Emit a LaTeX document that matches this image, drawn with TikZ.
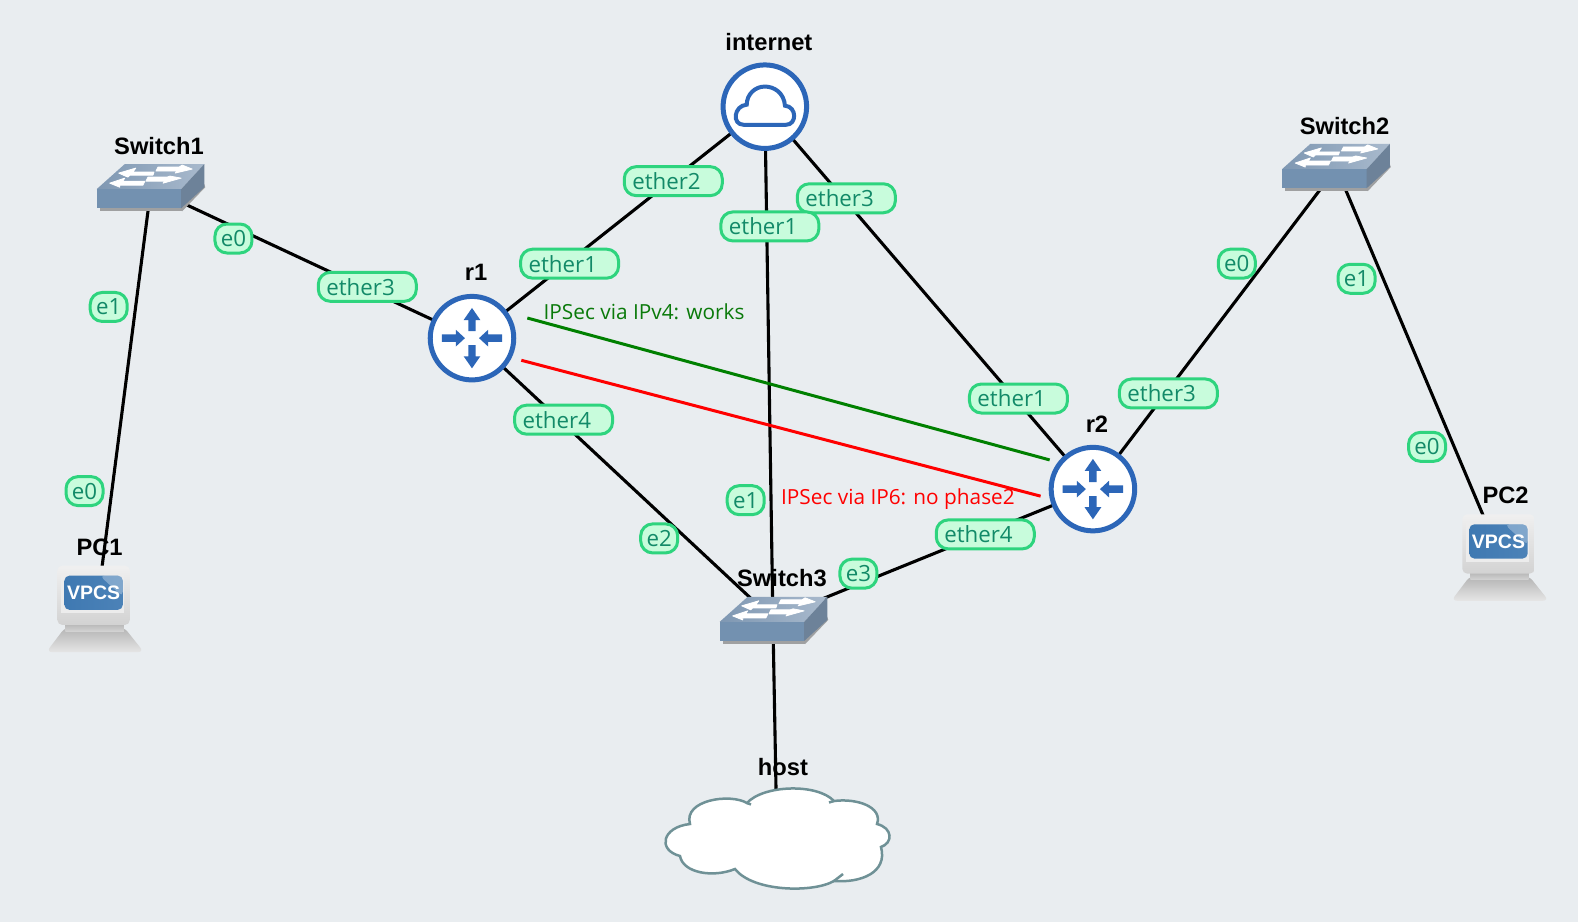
\documentclass[tikz,border=0pt]{standalone}
\usepackage{fontspec}
\setmainfont{Liberation Sans}
\newfontfamily\lblfont{Open Sans}
\definecolor{bgc}{HTML}{E9EDF0}
\definecolor{rblue}{HTML}{2C66B8}
\definecolor{bfill}{HTML}{C8FCDC}
\definecolor{bline}{HTML}{2ED47E}
\definecolor{btext}{HTML}{128A68}
\definecolor{swfront}{HTML}{7391B0}
\definecolor{swside}{HTML}{6D8299}
\definecolor{swtopa}{HTML}{7E97B2}
\definecolor{swtopb}{HTML}{A9BACD}
\definecolor{cloudl}{HTML}{6F9196}
\definecolor{tgreen}{HTML}{0A7A0A}
\definecolor{scra}{HTML}{3F79B2}
\definecolor{scrb}{HTML}{7FA6CC}
\tikzset{
  dev/.style={font=\bfseries\fontsize{23.7}{26}\selectfont,text=black,inner sep=0pt},
  link/.style={line width=3.1pt,black},
  tun/.style={line width=3pt},
  ann/.style={font=\lblfont\fontsize{20.8}{24}\selectfont,inner sep=0pt,anchor=base west},
  badge/.style={draw=bline,fill=bfill,line width=3pt,rounded corners=12pt,minimum height=29pt,inner sep=0pt,
    text=btext,font=\lblfont\fontsize{22.3}{24}\selectfont},
  lng/.style={badge,text width=82pt,inner xsep=8pt,align=left},
  sht/.style={badge,minimum width=37pt},
  swarrow/.style={fill=white,draw=white,line width=0.8pt,line join=round},
}
\newcommand{\swicon}[2]{%
\begin{scope}[shift={(#1,#2)}]
  \fill[gray!70!bgc] (-50,21) -- (32,21) -- (32,24) -- (-50,24) -- cycle;
  \fill[gray!70!bgc] (32,24) -- (55,0) -- (54,-3) -- (30,20) -- cycle;
  \shade[left color=swtopa,right color=swtopb] (-53,2) -- (-25,-23) -- (54,-23) -- (31,2) -- cycle;
  \fill[swfront] (-53,2) rectangle (31,21);
  \fill[swside] (31,2) -- (54,-23) -- (54,0) -- (31,21) -- cycle;
  \path[swarrow] (-31,-14) -- (-14,-19) -- (-17,-15) -- (4,-15) -- (3,-12) -- (-20,-12) -- (-22,-10) -- cycle;
  \path[swarrow] (42,-18) -- (32,-22) -- (29,-20) -- (8,-20) -- (6,-16) -- (27,-16) -- (25,-14) -- cycle;
  \path[swarrow] (-40,-4) -- (-25,-9) -- (-27,-6) -- (-5,-6) -- (-7,-2) -- (-30,-2) -- (-30,0) -- cycle;
  \path[swarrow] (31,-9) -- (20,-11) -- (17,-10) -- (-2,-10) -- (-4,-6) -- (15,-6) -- (13,-4) -- cycle;
\end{scope}}
\newcommand{\pcicon}[2]{%
\begin{scope}[shift={(#1,#2)}]
  \shade[top color=gray!60,bottom color=gray!20,rounded corners=6pt] (-48,47) -- (-29,22) -- (29,22) -- (49,47) -- cycle;
  \shade[top color=gray!60,bottom color=gray!35] (-29,18) rectangle (29,26);
  \shade[top color=gray!12,bottom color=gray!35,rounded corners=5pt] (-37,-39) rectangle (35,20);
  \fill[white!85!gray] (-33,-32) rectangle (29,8);
  \shade[left color=scra,right color=scra!80!scrb,rounded corners=5pt] (-30,-29) rectangle (28,5);
  \fill[white,opacity=.3,rounded corners=5pt] (5,-29) -- (28,-29) -- (28,-8) -- cycle;
  \node[inner sep=0pt,text=white,font=\bfseries\fontsize{19.5}{20}\selectfont] at (-1,-12) {VPCS};
\end{scope}}
\newcommand{\rticon}[2]{%
\begin{scope}[shift={(#1,#2)}]
  \fill[white] (0,0) circle (41.5);
  \draw[rblue,line width=5pt] (0,0) circle (41.5);
  \foreach \a in {0,180}{
    \fill[rblue,rotate=\a] (-3.7,-7) -- (3.7,-7) -- (3.7,-18) -- (8.3,-18) -- (0,-30) -- (-8.3,-18) -- (-3.7,-18) -- cycle;
  }
  \foreach \a in {90,270}{
    \fill[rblue,rotate=\a] (-3.7,-30) -- (3.7,-30) -- (3.7,-16) -- (8.3,-16) -- (0,-7) -- (-8.3,-16) -- (-3.7,-16) -- cycle;
  }
\end{scope}}
\begin{document}
\begin{tikzpicture}[x=1.00638pt,y=-1.00638pt]
\useasboundingbox (0,0) rectangle (1568,916.2);
\fill[bgc] (0,0) rectangle (1568,916.2);
% device labels
\node[dev] (linternet) at (764,42) {internet};
\node[dev] (lsw1) at (158,145) {Switch1};
\node[dev] (lsw2) at (1336,125) {Switch2};
\node[dev] (lr1) at (473,271) {r1};
\node[dev] (lr2) at (1090,422) {r2};
\node[dev] (lpc1) at (99,544) {PC1};
\node[dev] (lpc2) at (1496,492) {PC2};
\node[dev] (lsw3) at (777,574) {Switch3};
\node[dev] (lhost) at (778,762) {host};
% anchors
\coordinate (sw1) at (150,187);
\coordinate (sw2) at (1328,167);
\coordinate (sw3) at (768,615);
\coordinate (r1) at (469,336);
\coordinate (r2) at (1086,486);
\coordinate (inet) at (760,106);
\coordinate (pc1) at (96,605);
\coordinate (pc2) at (1491,553);
\coordinate (host) at (772,833);
\coordinate (gs) at (524,316);
\coordinate (ge) at (1043,457);
\coordinate (rs) at (518,358);
\coordinate (re) at (1034,493);
% links
\draw[link] (sw1) -- (pc1);
\draw[link] (sw1) -- (r1);
\draw[link] (r1) -- (inet);
\draw[link] (inet) -- (sw3);
\draw[link] (inet) -- (r2);
\draw[link] (r1) -- (sw3);
\draw[link] (r2) -- (sw3);
\draw[link] (r2) -- (sw2);
\draw[link] (sw2) -- (pc2);
\draw[link] (sw3) -- (host);
\draw[tun,green!50!black] (gs) -- (ge);
\draw[tun,red] (rs) -- (re);
% icons
\swicon{149}{186}
\swicon{1327}{166}
\swicon{768}{616}
\pcicon{94}{601}
\pcicon{1490}{550}
\rticon{469}{336}
\rticon{1086}{486}
\fill[white] (760,106) circle (41.5);
\draw[rblue,line width=5pt] (760,106) circle (41.5);
\draw[rblue,line width=4pt,shift={(760,106)}] (-21,18) -- (21,18) .. controls (32,18) and (32,0) .. (20,-1) .. controls (19,-14) and (9,-20) .. (0,-20) .. controls (-10,-20) and (-18,-12) .. (-18,-2) .. controls (-31,-1) and (-33,18) .. (-21,18) -- cycle;
% host cloud
\begin{scope}[x=1pt,y=-1pt]
\draw[cloudl,fill=white,line width=2.5pt] (747,803)
 .. controls (763,785) and (817,783) .. (834,801)
 .. controls (857,798) and (883,807) .. (877,824)
 .. controls (893,828) and (893,843) .. (881,847)
 .. controls (888,873) and (860,883) .. (834,881)
 .. controls (813,893) and (753,892) .. (735,869)
 .. controls (713,878) and (683,873) .. (680,856)
 .. controls (657,850) and (662,827) .. (690,824)
 .. controls (683,800) and (730,793) .. (747,803) -- cycle;
\draw[cloudl,line width=2.5pt] (834,801) -- (829,802.5);
\draw[cloudl,line width=2.5pt] (747,803) -- (751,804.5);
\draw[cloudl,line width=2.5pt] (834,881) -- (843,874);
\end{scope}
% annotations
\node[ann,text=tgreen] (ipv4) at (540,317.5) {IPSec via IPv4: works};
\node[ann,text=red] (ipv6) at (776,501.5) {IPSec via IP6: no phase2};
% badges
\node[lng] (b1) at (669,180) {ether2};
\node[lng] (b2) at (841,197) {ether3};
\node[lng] (b3) at (765,225) {ether1};
\node[lng] (b4) at (566,262) {ether1};
\node[lng] (b5) at (365,285) {ether3};
\node[lng] (b6) at (560,417) {ether4};
\node[lng] (b7) at (1012,396) {ether1};
\node[lng] (b8) at (1161,391) {ether3};
\node[lng] (b9) at (979,531) {ether4};
\node[sht] (c1) at (232,237) {e0};
\node[sht] (c2) at (108,305) {e1};
\node[sht] (c3) at (84,488) {e0};
\node[sht] (c4) at (741,497) {e1};
\node[sht] (c5) at (655,535) {e2};
\node[sht] (c6) at (853,570) {e3};
\node[sht] (c7) at (1229,262) {e0};
\node[sht] (c8) at (1348,277) {e1};
\node[sht] (c9) at (1418,444) {e0};
\end{tikzpicture}
\end{document}
